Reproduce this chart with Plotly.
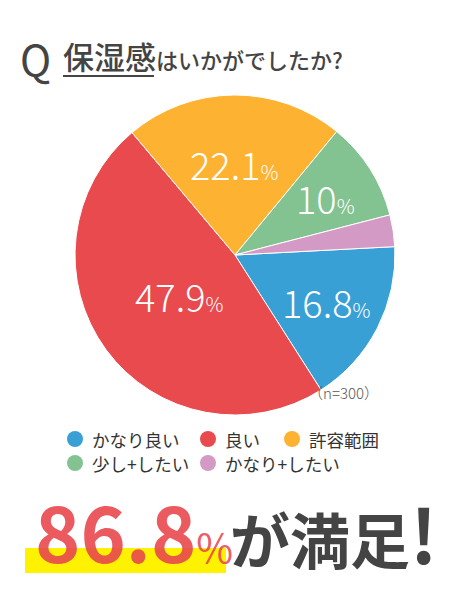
import math
import plotly.graph_objects as go

# data
labels = ["かなり良い", "良い", "許容範囲", "少し+したい", "かなり+したい"]
values = [16.8, 47.9, 22.1, 10.0, 3.2]
colors = ["#39a0d6", "#e84a4e", "#fdb232", "#83c391", "#d49ac6"]
n_total = 300
satisfied = 86.8

W, H = 466, 601
CX, CY, R = 235, 255, 160
JP = "Noto Sans CJK JP"


def px(x):
    return x / W


def py(y):
    return 1 - y / H


fig = go.Figure()
fig.add_trace(go.Pie(
    labels=labels, values=values, sort=False, direction="clockwise",
    rotation=87, textinfo="none", hoverinfo="label+percent",
    marker=dict(colors=colors, line=dict(color="white", width=1)),
    domain=dict(x=[px(CX - R), px(CX + R)], y=[py(CY + R), py(CY - R)]),
    showlegend=False,
))

annotations = []
shapes = []

# percentage labels inside slices
label_r = [0.64, 0.43, 0.57, 0.67, None]
total = sum(values)
start = 87
for v, rf in zip(values, label_r):
    span = v / total * 360
    mid = math.radians(start + span / 2)
    start += span
    if rf is None:
        continue
    x = CX + rf * R * math.sin(mid)
    y = CY - rf * R * math.cos(mid)
    txt = f"{v:g}<span style='font-size:20px'>%</span>"
    annotations.append(dict(
        x=px(x), y=py(y), xref="paper", yref="paper", text=txt,
        showarrow=False, xanchor="center", yanchor="middle",
        font=dict(family=JP, size=38, color="white", weight=300),
    ))

annotations.append(dict(
    x=px(306), y=py(405), xref="paper", yref="paper",
    text=f"（n={n_total}）", showarrow=False, xanchor="left",
    font=dict(family=JP, size=15, color="#555", weight=300),
))

# title
annotations.append(dict(
    x=px(18), y=py(57), xref="paper", yref="paper", text="Q",
    showarrow=False, xanchor="left", yanchor="middle",
    font=dict(family=JP, size=42, color="#444"),
))
annotations.append(dict(
    x=px(61), y=py(55), xref="paper", yref="paper",
    text="保湿感<span style='font-size:22px'>はいかがでしたか?</span>",
    showarrow=False, xanchor="left", yanchor="middle",
    font=dict(family=JP, size=31, color="#444", weight=500),
))
shapes.append(dict(type="line", xref="paper", yref="paper",
                   x0=px(63), x1=px(154), y0=py(76), y1=py(76),
                   line=dict(color="#444", width=2)))

# legend
leg_pos = [(75, 439), (208, 439), (292, 439), (75, 463), (208, 463)]
for (lx, ly), lab, col in zip(leg_pos, labels, colors):
    shapes.append(dict(type="circle", xref="paper", yref="paper",
                       x0=px(lx - 8), x1=px(lx + 8), y0=py(ly + 8), y1=py(ly - 8),
                       fillcolor=col, line=dict(width=0)))
    annotations.append(dict(
        x=px(lx + 15), y=py(ly), xref="paper", yref="paper", text=lab,
        showarrow=False, xanchor="left", yanchor="middle",
        font=dict(family=JP, size=17.5, color="#333"),
    ))

# bottom message
shapes.append(dict(type="rect", xref="paper", yref="paper", layer="below",
                   x0=px(25), x1=px(226), y0=py(573), y1=py(548),
                   fillcolor="#fff200", line=dict(width=0)))
annotations.append(dict(
    x=px(33), y=py(529), xref="paper", yref="paper",
    text=f"{satisfied:g}<span style='font-size:40px;font-weight:400'>%</span>",
    showarrow=False, xanchor="left", yanchor="middle",
    font=dict(family=JP, size=77, color="rgba(232,72,78,0.9)", weight=600),
))
annotations.append(dict(
    x=px(228), y=py(531), xref="paper", yref="paper",
    text="が満足<span style='font-size:74px'>!</span>",
    showarrow=False, xanchor="left", yanchor="middle",
    font=dict(family=JP, size=60, color="#444", weight=700),
))

fig.update_layout(
    width=W, height=H, margin=dict(l=0, r=0, t=0, b=0),
    paper_bgcolor="white", plot_bgcolor="white",
    annotations=annotations, shapes=shapes,
)

fig.write_html("out.html", config={"displayModeBar": False},
               post_script="document.body.style.margin='0';")
